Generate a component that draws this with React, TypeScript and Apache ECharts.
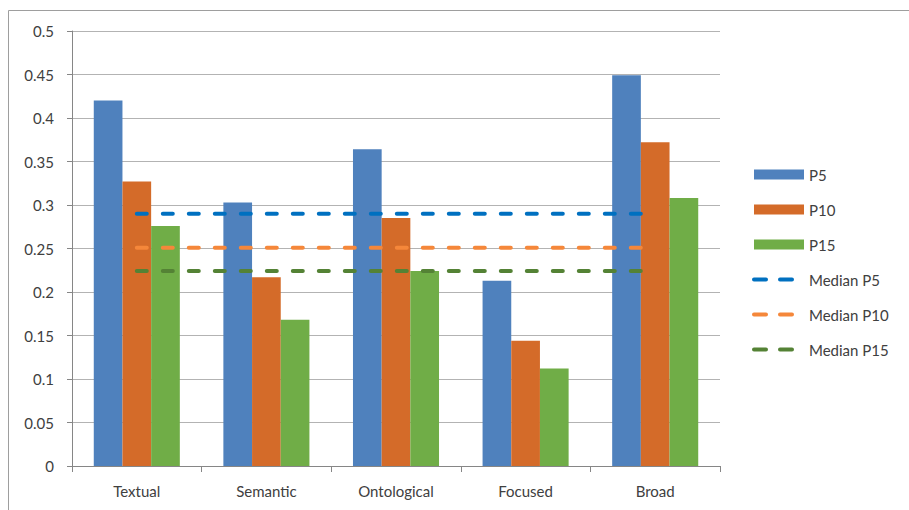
import React, { useEffect, useRef } from "react";
import * as echarts from "echarts";

const categories = ["Textual", "Semantic", "Ontological", "Focused", "Broad"];
const p5 = [0.42, 0.303, 0.364, 0.213, 0.449];
const p10 = [0.327, 0.217, 0.285, 0.144, 0.372];
const p15 = [0.276, 0.168, 0.224, 0.112, 0.308];
const medianP5 = [0.29, 0.29, 0.29, 0.29, 0.29];
const medianP10 = [0.251, 0.251, 0.251, 0.251, 0.251];
const medianP15 = [0.224, 0.224, 0.224, 0.224, 0.224];
const yTicks = ["0", "0.05", "0.1", "0.15", "0.2", "0.25", "0.3", "0.35", "0.4", "0.45", "0.5"];

const FONT = "Lato, 'Noto Sans', sans-serif";
const TEXT = "#404040";

export default function App() {
  const ref = useRef<HTMLDivElement>(null);
  useEffect(() => {
    if (!ref.current) return;
    const chart = echarts.init(ref.current, null, { renderer: "svg" });
    const dashLine = (name: string, data: number[], color: string) => ({
      name,
      type: "line",
      data,
      symbol: "none",
      z: 5,
      lineStyle: { color, width: 4, type: [10, 16], cap: "round" },
      itemStyle: { color },
    });
    const lineLegend = (name: string) => ({
      name,
      itemStyle: { opacity: 0 },
      lineStyle: { width: 4, type: [12, 14], cap: "round" },
    });
    chart.setOption({
      animation: false,
      backgroundColor: "#ffffff",
      textStyle: { fontFamily: FONT },
      graphic: [
        {
          type: "rect",
          shape: { x: 8.5, y: 10.5, width: 1000, height: 600 },
          style: { fill: "none", stroke: "#9E9E9E", lineWidth: 1 },
          silent: true,
          z: -10,
        },
      ],
      grid: { left: 72, right: 189, top: 31, bottom: 44, containLabel: false },
      legend: {
        orient: "vertical",
        left: 752,
        top: 167,
        padding: 0,
        itemWidth: 50,
        itemHeight: 10,
        itemGap: 20,
        textStyle: { fontFamily: FONT, fontSize: 15, color: TEXT },
        data: [
          { name: "P5", icon: "rect" },
          { name: "P10", icon: "rect" },
          { name: "P15", icon: "rect" },
          lineLegend("Median P5"),
          lineLegend("Median P10"),
          lineLegend("Median P15"),
        ],
      },
      xAxis: {
        type: "category",
        data: categories,
        axisLine: { lineStyle: { color: "#868686", width: 1 } },
        axisTick: { show: true, length: 6, lineStyle: { color: "#868686" } },
        axisLabel: { fontFamily: FONT, fontSize: 15, color: TEXT, margin: 17 },
      },
      yAxis: {
        type: "value",
        min: 0,
        max: 0.5,
        interval: 0.05,
        axisLine: { show: true, lineStyle: { color: "#868686", width: 1 } },
        axisTick: { show: true, length: 5, lineStyle: { color: "#868686" } },
        axisLabel: {
          fontFamily: FONT,
          fontSize: 15,
          color: TEXT,
          margin: 18,
          formatter: (v: number) => yTicks[Math.round(v / 0.05)] ?? String(v),
        },
        splitLine: { show: true, lineStyle: { color: "#B3B3B3", width: 1 } },
      },
      series: [
        { name: "P5", type: "bar", data: p5, barGap: "0%", barCategoryGap: "33.6%", itemStyle: { color: "#4F81BD" } },
        { name: "P10", type: "bar", data: p10, barGap: "0%", barCategoryGap: "33.6%", itemStyle: { color: "#D46B29" } },
        { name: "P15", type: "bar", data: p15, barGap: "0%", barCategoryGap: "33.6%", itemStyle: { color: "#70AD47" } },
        dashLine("Median P5", medianP5, "#0070C0"),
        dashLine("Median P10", medianP10, "#F5873A"),
        dashLine("Median P15", medianP15, "#548235"),
      ],
    });
    return () => chart.dispose();
  }, []);
  return (
    <div
      ref={ref}
      style={{ position: "fixed", left: 0, top: 0, width: 909, height: 510 }}
    />
  );
}
